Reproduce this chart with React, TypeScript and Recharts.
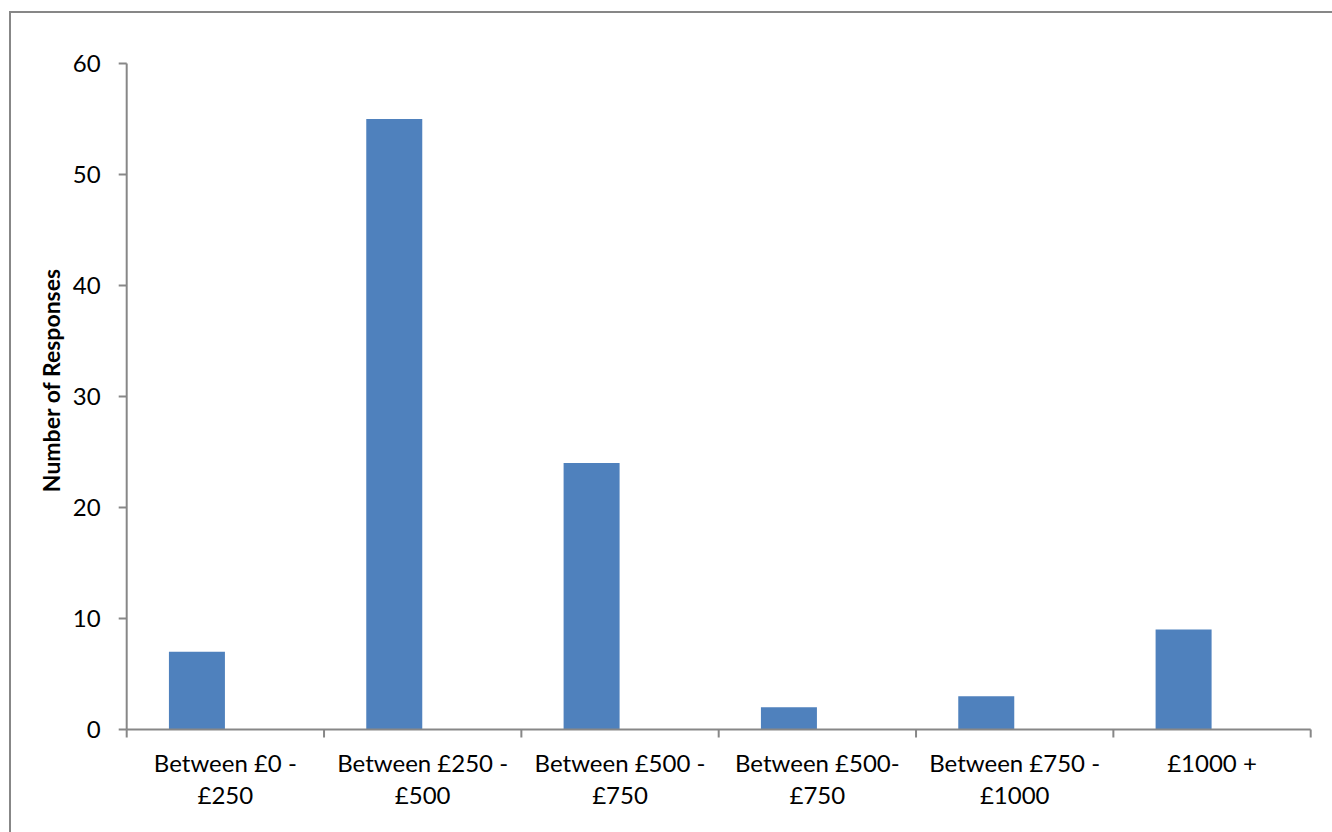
import { Bar, BarChart, XAxis, YAxis } from "recharts";

const categories = [
  "Between £0 -\n£250",
  "Between £250 -\n£500",
  "Between £500 -\n£750",
  "Between £500-\n£750",
  "Between £750 -\n£1000",
  "£1000 +",
];
const responses = [7, 55, 24, 2, 3, 9];
// second series slot is empty in every category, so each bar sits left of centre
const emptySeries = [null, null, null, null, null, null];
const yTicks = [0, 10, 20, 30, 40, 50, 60];

const data = categories.map((name, i) => ({ name, responses: responses[i], empty: emptySeries[i] }));

const FONT = "Lato, 'Open Sans', sans-serif";
const AXIS = "#878787";

function CategoryTick(props: any) {
  const { x, y, payload, index, visibleTicksCount } = props;
  const half = payload.offset ?? 0;
  const lines = String(payload.value).split("\n");
  const last = index === visibleTicksCount - 1;
  return (
    <g>
      <line x1={x - half} y1={y} x2={x - half} y2={y + 8} stroke={AXIS} strokeWidth={2} />
      {last && <line x1={x + half} y1={y} x2={x + half} y2={y + 8} stroke={AXIS} strokeWidth={2} />}
      <text x={x} y={y + 42} textAnchor="middle" fill="#000" fontSize={24} fontFamily={FONT}>
        {lines.map((l, i) => (
          <tspan key={i} x={x} dy={i === 0 ? 0 : 32.5}>
            {l}
          </tspan>
        ))}
      </text>
    </g>
  );
}

function YTitle(props: any) {
  const { viewBox } = props;
  const cx = 40;
  const cy = viewBox.y + viewBox.height / 2 - 16;
  return (
    <text
      x={cx}
      y={cy}
      transform={`rotate(-90 ${cx} ${cy})`}
      textAnchor="middle"
      dominantBaseline="central"
      fontSize={23}
      fontWeight="bold"
      fontFamily={FONT}
      fill="#000"
    >
      Number of Responses
    </text>
  );
}

export default function App() {
  return (
    <div
      style={{
        position: "absolute",
        left: 9,
        top: 11,
        width: 1323,
        height: 821,
        boxSizing: "border-box",
        borderTop: `2px solid ${AXIS}`,
        borderLeft: `2px solid ${AXIS}`,
        background: "#fff",
        overflow: "hidden",
      }}
    >
      <BarChart
        width={1321}
        height={819}
        data={data}
        margin={{ top: 50.5, right: 21.3, bottom: 0.5, left: 0 }}
        barCategoryGap="21.4%"
        barGap={0}
      >
        <XAxis
          dataKey="name"
          height={102}
          axisLine={{ stroke: AXIS, strokeWidth: 2 }}
          tickLine={false}
          tickSize={0}
          tickMargin={0}
          interval={0}
          tick={<CategoryTick />}
        />
        <YAxis
          width={115.7}
          domain={[0, 60]}
          ticks={yTicks}
          interval={0}
          axisLine={{ stroke: AXIS, strokeWidth: 2 }}
          tickLine={{ stroke: AXIS, strokeWidth: 2 }}
          tickSize={8}
          tickMargin={18}
          tick={{ fill: "#000", fontSize: 24, fontFamily: FONT }}
          label={<YTitle />}
        />
        <Bar dataKey="responses" fill="#4F81BD" isAnimationActive={false} />
        <Bar dataKey="empty" fill="#C0504D" isAnimationActive={false} />
      </BarChart>
    </div>
  );
}
